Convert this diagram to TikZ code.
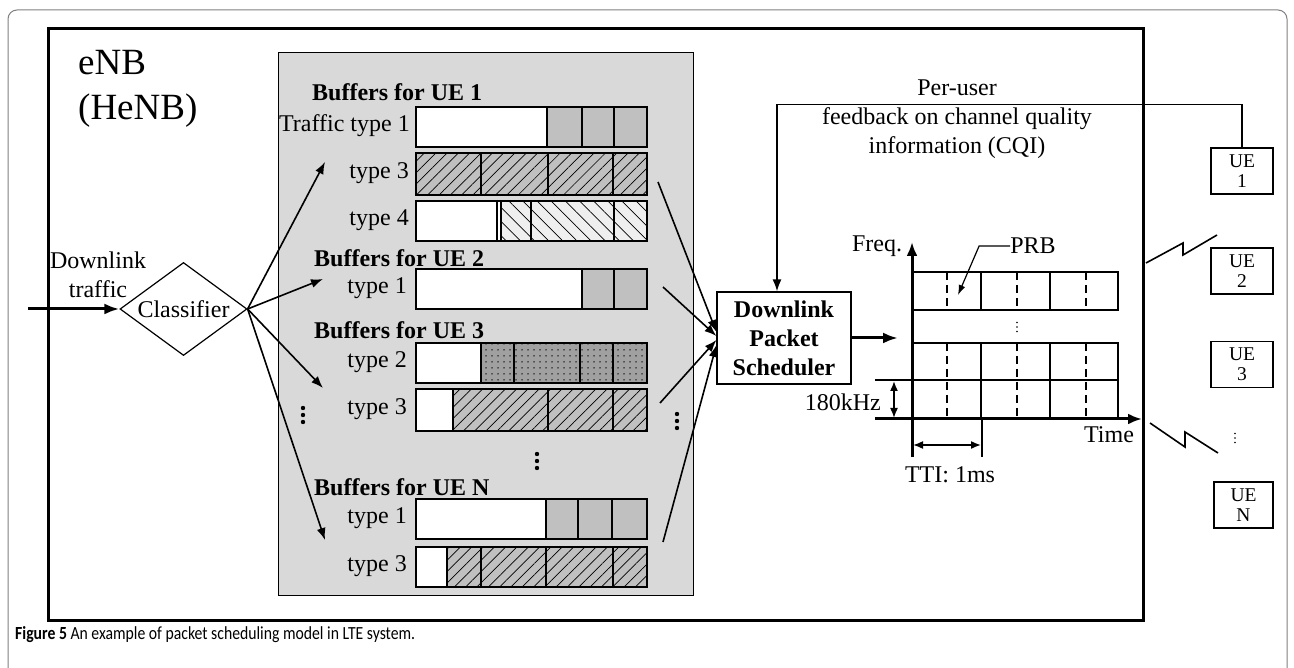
\documentclass[tikz,border=0pt]{standalone}
\usepackage{fontspec}
\setmainfont{Liberation Serif}
\newfontfamily\capfont[FakeStretch=0.85]{Carlito}
\usetikzlibrary{arrows.meta,patterns.meta,shapes.geometric}
\definecolor{panel}{HTML}{D9D9D9}
\definecolor{cellgray}{HTML}{C0C0C0}
\definecolor{lightcell}{HTML}{EFEFEF}
\definecolor{dotcell}{HTML}{A0A0A0}
\definecolor{framegray}{HTML}{808080}
\newcommand\bufrow[5]{%
  \fill[white] (416,#1) rectangle (#3,#2);
  \path[#4] (#3,#1) rectangle (647,#2);
  \foreach \d in {#5} \draw[cellline] (\d,#1) -- (\d,#2);
  \draw[cellline] (416,#1) rectangle (647,#2);
}
\newcommand\threedots[4]{%
  \fill (#1,#2-#4) circle (#3);
  \fill (#1,#2) circle (#3);
  \fill (#1,#2+#4) circle (#3);
}
\begin{document}
\begin{tikzpicture}[x=1pt,y=-1pt,
  lbl/.style={font=\fontsize{24}{29}\selectfont, inner sep=0pt},
  blbl/.style={font=\fontsize{24}{29}\selectfont\bfseries, inner sep=0pt},
  uelbl/.style={font=\fontsize{19.5}{20}\selectfont, inner sep=0pt},
  cellline/.style={line width=1.1pt},
  arr/.style={line width=1.6pt, -{Latex[length=12pt,width=9pt]}},
  bigarr/.style={line width=3pt, -{Latex[length=15pt,width=11pt]}},
  dbl/.style={line width=1.6pt, {Latex[length=10pt,width=8pt]}-{Latex[length=10pt,width=8pt]}},
  solidgray/.style={fill=cellgray},
  hatchA/.style={fill=cellgray, postaction={pattern={Lines[angle=45,distance=8pt,line width=0.7pt]}}},
  hatchB/.style={fill=lightcell, postaction={pattern={Lines[angle=-45,distance=10pt,line width=0.7pt]}}},
  dotty/.style={fill=dotcell, postaction={pattern={Dots[radius=0.75pt,distance=6pt]}}},
  uebox/.style={draw, line width=1.2pt, minimum width=62pt, minimum height=46pt, align=center, uelbl},
  gridline/.style={line width=1.2pt},
  dashline/.style={line width=1.2pt, dash pattern=on 8pt off 5pt},
]
\useasboundingbox (0,0) rectangle (1294,668);
\fill[white] (0,0) rectangle (1294,668);
% outer figure frame
\draw[framegray, line width=1pt, rounded corners=9pt] (8,668) -- (8,10) -- (1287,10) -- (1287,668);
% eNB box
\draw[line width=3pt] (48,29) rectangle (1143,620);
\node[anchor=base west, font=\fontsize{37}{45}\selectfont, inner sep=0pt] (enb) at (78,75) {eNB};
\node[anchor=base west, font=\fontsize{37}{45}\selectfont, inner sep=0pt] (henb) at (78,120) {(HeNB)};
% buffer panel
\draw[fill=panel, line width=1pt] (278,53) rectangle (693,595);
% headers
\node[blbl, anchor=west] (h1) at (312,92) {Buffers for UE 1};
\node[blbl, anchor=west] (h2) at (314,258) {Buffers for UE 2};
\node[blbl, anchor=west] (h3) at (314,330) {Buffers for UE 3};
\node[blbl, anchor=west] (hN) at (314,487) {Buffers for UE N};
% row labels
\node[lbl, anchor=east] (l11) at (410,126) {Traffic type 1};
\node[lbl, anchor=east] (l13) at (409,173) {type 3};
\node[lbl, anchor=east] (l14) at (409,220) {type 4};
\node[lbl, anchor=east] (l21) at (407,288) {type 1};
\node[lbl, anchor=east] (l32) at (407,362) {type 2};
\node[lbl, anchor=east] (l33) at (407,409) {type 3};
\node[lbl, anchor=east] (lN1) at (407,518) {type 1};
\node[lbl, anchor=east] (lN3) at (407,566) {type 3};
% buffer rows
\bufrow{107}{147}{547}{solidgray}{547,582,614}
\bufrow{153}{195}{416}{hatchA}{481,548,613}
\bufrow{201}{241}{501}{hatchB}{497,501,531,614}
\bufrow{269}{309}{582}{solidgray}{582,614}
\bufrow{343}{383}{481}{dotty}{481,514,580,613}
\bufrow{389}{431}{453}{hatchA}{453,548,613}
\bufrow{499}{539}{546}{solidgray}{546,578,612}
\bufrow{547}{587}{447}{hatchA}{447,481,546,613}
% bold dots
\threedots{303}{415}{2.2pt}{7}
\threedots{537}{461}{2.2pt}{7}
\threedots{677}{421}{2.2pt}{7}
% classifier
\node[diamond, draw, line width=1.2pt, aspect=1.366, minimum width=127pt, minimum height=93pt, inner sep=0pt, lbl] (cls) at (183.5,309) {Classifier};
\coordinate (dlin) at (28,309);
\draw[bigarr] (dlin) -- (cls.west);
\node[lbl, align=center] (dltxt) at (98,275) {Downlink\\traffic};
\coordinate (t1) at (325,162);
\coordinate (t2) at (323,279);
\coordinate (t3) at (323,388);
\coordinate (t4) at (325,540);
\draw[arr] (cls.east) -- (t1);
\draw[arr] (cls.east) -- (t2);
\draw[arr] (cls.east) -- (t3);
\draw[arr] (cls.east) -- (t4);
% scheduler
\node[draw, line width=1.2pt, minimum width=134pt, minimum height=92pt, blbl, align=center] (sch) at (784,338) {Downlink\\Packet\\Scheduler};
\coordinate (s1) at (658,182);
\coordinate (s2) at (663,287);
\coordinate (s3) at (660,403);
\coordinate (s4) at (663,542);
\draw[arr] (s1) -- ([yshift=6pt]sch.west);
\draw[arr] (s2) -- ([yshift=2pt]sch.west);
\draw[arr] (s3) -- ([yshift=-2pt]sch.west);
\draw[arr] (s4) -- ([yshift=-7pt]sch.west);
\coordinate (gin) at (898,338);
\draw[bigarr] (sch.east) -- (gin);
% UEs
\node[uebox] (ue1) at (1242,171) {UE\\1};
\node[uebox] (ue2) at (1242,271) {UE\\2};
\node[uebox] (ue3) at (1242,364.5) {UE\\3};
\node[uebox, minimum width=59pt] (ueN) at (1243.5,505) {UE\\N};
\threedots{1235}{438}{0.9pt}{4.5}
% feedback
\draw[arr] (ue1.north) -- ++(0,-43) -| ([xshift=-7pt]sch.north);
\node[lbl, align=center] (cqi) at (957,119) {Per-user\\feedback on channel quality\\information (CQI)};
% radio links
\draw[line width=1.6pt] (1146,263) -- (1183,243) -- (1183,255) -- (1217,235);
\draw[line width=1.6pt] (1150,423) -- (1185,447) -- (1185,432) -- (1218,453);
% time-frequency grid
\draw[gridline] (912,272) rectangle (1118,310);
\draw[gridline] (912,343) rectangle (1118,419);
\draw[gridline] (875,380) -- (1118,380);
\foreach \xx in {981,1050} {
  \draw[gridline] (\xx,272) -- (\xx,310);
  \draw[gridline] (\xx,343) -- (\xx,419);
}
\foreach \xx in {947,1017,1086} {
  \draw[dashline] (\xx,272) -- (\xx,310);
  \draw[dashline] (\xx,343) -- (\xx,419);
}
\threedots{1017}{327}{0.9pt}{4.5}
\draw[line width=3pt, -{Latex[length=14pt,width=11pt]}] (912,457) -- (912,242);
\draw[line width=3pt, -{Latex[length=14pt,width=11pt]}] (875,419) -- (1142,419);
\node[lbl] (freq) at (877,246) {Freq.};
\node[lbl] (time) at (1109,435) {Time};
\node[lbl] (prb) at (1033,246) {PRB};
\coordinate (prbtip) at (958,295);
\draw[line width=1.2pt, -{Latex[length=10pt,width=7pt]}] (prb.west) -- ++(-31,0) -- (prbtip);
\draw[dbl] (894,381) -- (894,418);
\node[lbl, anchor=east] (khz) at (881,402) {180kHz};
\draw[line width=1.6pt] (982,419) -- (982,457);
\draw[dbl] (913,445) -- (981,445);
\node[lbl] (tti) at (950,475) {TTI: 1ms};
% caption
\node[anchor=base west, font=\capfont\fontsize{18.5}{22}\selectfont, inner sep=0pt] (cap) at (15,639) {\textbf{Figure 5} An example of packet scheduling model in LTE system.};
\end{tikzpicture}
\end{document}
